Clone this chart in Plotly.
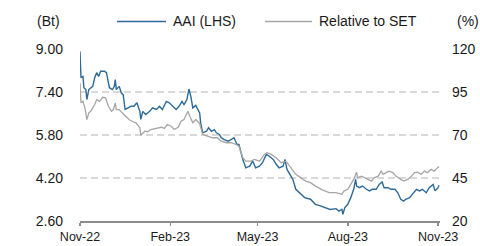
import plotly.graph_objects as go

aai_dates = ["2022-11-01","2022-11-02","2022-11-04","2022-11-05","2022-11-07","2022-11-08","2022-11-10","2022-11-12","2022-11-14","2022-11-16",
 "2022-11-18","2022-11-20","2022-11-22","2022-11-26","2022-11-28","2022-11-29","2022-12-01","2022-12-04","2022-12-06","2022-12-07",
 "2022-12-08","2022-12-11","2022-12-13","2022-12-15","2022-12-17","2022-12-20","2022-12-23","2022-12-26","2022-12-29","2023-01-01",
 "2023-01-02","2023-01-04","2023-01-07","2023-01-11","2023-01-14","2023-01-18","2023-01-21","2023-01-24","2023-01-28","2023-01-31",
 "2023-02-04","2023-02-07","2023-02-10","2023-02-13","2023-02-15","2023-02-18","2023-02-20","2023-02-22","2023-02-24","2023-02-27",
 "2023-03-03","2023-03-04","2023-03-06","2023-03-10","2023-03-12","2023-03-15","2023-03-18","2023-03-20","2023-03-23","2023-03-25",
 "2023-03-28","2023-04-01","2023-04-04","2023-04-07","2023-04-10","2023-04-12","2023-04-16","2023-04-19","2023-04-23","2023-04-26",
 "2023-04-29","2023-05-03","2023-05-06","2023-05-10","2023-05-13","2023-05-17","2023-05-20","2023-05-23","2023-05-27","2023-05-29",
 "2023-05-31","2023-06-02","2023-06-06","2023-06-09","2023-06-13","2023-06-18","2023-06-24","2023-06-29","2023-07-04","2023-07-09",
 "2023-07-14","2023-07-20","2023-07-23","2023-07-26","2023-07-27","2023-07-29","2023-08-01","2023-08-04","2023-08-07","2023-08-09",
 "2023-08-10","2023-08-13","2023-08-16","2023-08-20","2023-08-23","2023-08-26","2023-08-30","2023-09-02","2023-09-05","2023-09-07",
 "2023-09-11","2023-09-14","2023-09-18","2023-09-21","2023-09-24","2023-09-27","2023-09-29","2023-10-03","2023-10-06","2023-10-10",
 "2023-10-13","2023-10-16","2023-10-20","2023-10-23","2023-10-27","2023-10-29","2023-11-01","2023-11-02"]
aai_price = [8.91,7.93,7.98,7.56,7.49,7.12,7.49,7.56,7.61,7.93,
 8.12,7.98,8.17,8.17,8.12,7.93,7.56,7.49,7.61,7.86,
 7.49,7.61,7.37,7.30,6.75,6.81,6.87,6.87,7.00,6.68,
 6.38,6.68,6.56,6.68,6.81,6.75,6.87,6.75,7.05,7.00,
 6.87,6.75,6.87,7.05,6.93,7.12,7.51,7.24,6.81,6.90,
 6.62,6.25,5.88,5.94,6.07,5.94,6.00,5.88,5.82,5.70,
 5.63,5.57,5.63,5.70,5.45,5.45,4.89,4.58,4.64,4.83,
 4.58,4.64,4.77,5.08,5.01,4.89,4.71,4.58,4.64,4.89,
 4.52,4.40,4.15,3.78,3.65,3.47,3.41,3.22,3.16,3.10,
 3.03,3.06,2.97,3.03,2.85,3.10,3.22,3.47,3.78,4.15,
 3.90,3.84,3.90,3.78,3.72,3.78,3.78,3.96,4.05,3.84,
 3.84,3.78,3.78,3.65,3.41,3.34,3.41,3.47,3.59,3.78,
 3.72,3.78,3.65,3.84,3.96,3.72,3.84,3.93]

rel_dates = ["2022-11-01","2022-11-02","2022-11-04","2022-11-06","2022-11-08","2022-11-10","2022-11-12","2022-11-16","2022-11-18","2022-11-21",
 "2022-11-24","2022-11-27","2022-11-30","2022-12-03","2022-12-05","2022-12-07","2022-12-08","2022-12-11","2022-12-14","2022-12-18",
 "2022-12-21","2022-12-25","2022-12-28","2023-01-01","2023-01-02","2023-01-06","2023-01-09","2023-01-12","2023-01-17","2023-01-23",
 "2023-01-26","2023-01-29","2023-02-02","2023-02-05","2023-02-09","2023-02-12","2023-02-15","2023-02-19","2023-02-21","2023-02-24",
 "2023-02-27","2023-03-03","2023-03-06","2023-03-11","2023-03-16","2023-03-21","2023-03-25","2023-03-30","2023-04-04","2023-04-09",
 "2023-04-12","2023-04-16","2023-04-19","2023-04-24","2023-04-28","2023-05-03","2023-05-08","2023-05-11","2023-05-15","2023-05-20",
 "2023-05-25","2023-05-30","2023-06-04","2023-06-09","2023-06-14","2023-06-19","2023-06-24","2023-06-29","2023-07-06","2023-07-13",
 "2023-07-20","2023-07-26","2023-07-28","2023-08-01","2023-08-04","2023-08-07","2023-08-10","2023-08-11","2023-08-15","2023-08-18",
 "2023-08-21","2023-08-25","2023-08-28","2023-09-01","2023-09-04","2023-09-06","2023-09-09","2023-09-12","2023-09-16","2023-09-19",
 "2023-09-24","2023-09-27","2023-10-01","2023-10-05","2023-10-08","2023-10-11","2023-10-15","2023-10-18","2023-10-21","2023-10-25",
 "2023-10-28","2023-11-01","2023-11-02"]
rel_pct = [100.3,88.7,89.6,85.8,79.0,82.9,83.8,87.7,90.6,89.6,
 91.9,91.6,86.7,83.8,84.8,88.7,84.8,84.8,82.9,80.9,
 79.0,77.7,77.1,74.2,69.9,72.2,71.9,73.2,73.8,74.5,
 73.8,76.1,75.1,73.2,74.5,78.0,79.0,83.8,80.9,77.1,
 79.0,76.7,70.3,69.3,68.4,68.4,66.4,65.5,65.5,64.5,
 63.5,56.8,54.8,54.8,55.8,54.8,58.7,59.7,58.7,56.8,
 53.9,54.8,51.0,47.1,45.2,43.2,42.3,40.3,38.1,36.5,
 36.5,35.5,37.4,38.4,41.3,44.2,48.4,45.2,46.1,45.2,
 44.2,43.2,45.2,46.1,49.0,47.1,48.1,49.0,48.1,46.1,
 44.2,43.2,44.2,46.1,48.1,48.4,47.1,49.0,48.1,50.0,
 49.0,51.0,51.7]

left_ticks = [2.6, 4.2, 5.8, 7.4, 9.0]
right_ticks = [20, 45, 70, 95, 120]
x_ticks = ["2022-11-01", "2023-02-01", "2023-05-01", "2023-08-01", "2023-11-01"]
x_labels = ["Nov-22", "Feb-23", "May-23", "Aug-23", "Nov-23"]
series_names = ["AAI (LHS)", "Relative to SET"]

FONT = "Liberation Sans, Arial, sans-serif"
BLUE = "#2E6A97"
GREY = "#A6A6A6"
W, H = 480, 246
ML, MR, MT, MB = 80, 40, 49, 25
PW, PH = W - ML - MR, H - MT - MB


def px_x(p):
    return (p - ML) / PW


def px_y(p):
    return (H - MB - p) / PH


fig = go.Figure()
fig.add_trace(go.Scatter(x=aai_dates, y=aai_price, mode="lines", name=series_names[0],
                         line=dict(color=BLUE, width=1.4), yaxis="y"))
fig.add_trace(go.Scatter(x=rel_dates, y=rel_pct, mode="lines", name=series_names[1],
                         line=dict(color=GREY, width=1.3), yaxis="y2"))

leg_y = px_y(21.5)
shapes = [
    dict(type="line", xref="paper", yref="paper", x0=px_x(117), x1=px_x(166), y0=leg_y, y1=leg_y,
         line=dict(color=BLUE, width=1.4)),
    dict(type="line", xref="paper", yref="paper", x0=px_x(265), x1=px_x(312), y0=leg_y, y1=leg_y,
         line=dict(color=GREY, width=1.3)),
]
annotations = [
    dict(text=series_names[0], xref="paper", yref="paper", x=px_x(171), y=leg_y, xanchor="left",
         yanchor="middle", showarrow=False, font=dict(size=14)),
    dict(text=series_names[1], xref="paper", yref="paper", x=px_x(317), y=leg_y, xanchor="left",
         yanchor="middle", showarrow=False, font=dict(size=14)),
    dict(text="(Bt)", xref="paper", yref="paper", x=px_x(35), y=leg_y, xanchor="left",
         yanchor="middle", showarrow=False, font=dict(size=14)),
    dict(text="(%)", xref="paper", yref="paper", x=px_x(455), y=leg_y, xanchor="left",
         yanchor="middle", showarrow=False, font=dict(size=14)),
]

fig.update_layout(
    width=W, height=H,
    margin=dict(l=ML, r=MR, t=MT, b=MB, autoexpand=False),
    paper_bgcolor="white", plot_bgcolor="white",
    font=dict(family=FONT, size=13, color="#1a1a1a"),
    showlegend=False,
    hovermode=False,
    xaxis=dict(type="date", range=["2022-11-01", "2023-11-03"],
               tickvals=x_ticks, ticktext=x_labels, tickfont=dict(size=12.5),
               showgrid=False, showline=True, linecolor="#8c8c8c", linewidth=1.5,
               ticks="outside", ticklen=3, tickcolor="#8c8c8c", tickwidth=1.5,
               zeroline=False, automargin=False),
    yaxis=dict(range=[2.6, 9.0], tickvals=left_ticks, tickformat=".2f",
               tickfont=dict(size=14), showgrid=True, gridcolor="#D9D9D9", gridwidth=1.5,
               griddash="7px,4px", zeroline=False, showline=False, ticks="",
               ticklabelstandoff=16, automargin=False),
    yaxis2=dict(range=[20, 120], tickvals=right_ticks, overlaying="y", side="right",
                tickfont=dict(size=14), showgrid=False, zeroline=False, showline=False,
                ticks="", ticklabelstandoff=11, automargin=False),
    shapes=shapes,
    annotations=annotations,
)

fig.write_html("out.html", config={"displayModeBar": False, "staticPlot": True},
               post_script="document.body.style.margin='0';document.body.style.overflow='hidden';")
